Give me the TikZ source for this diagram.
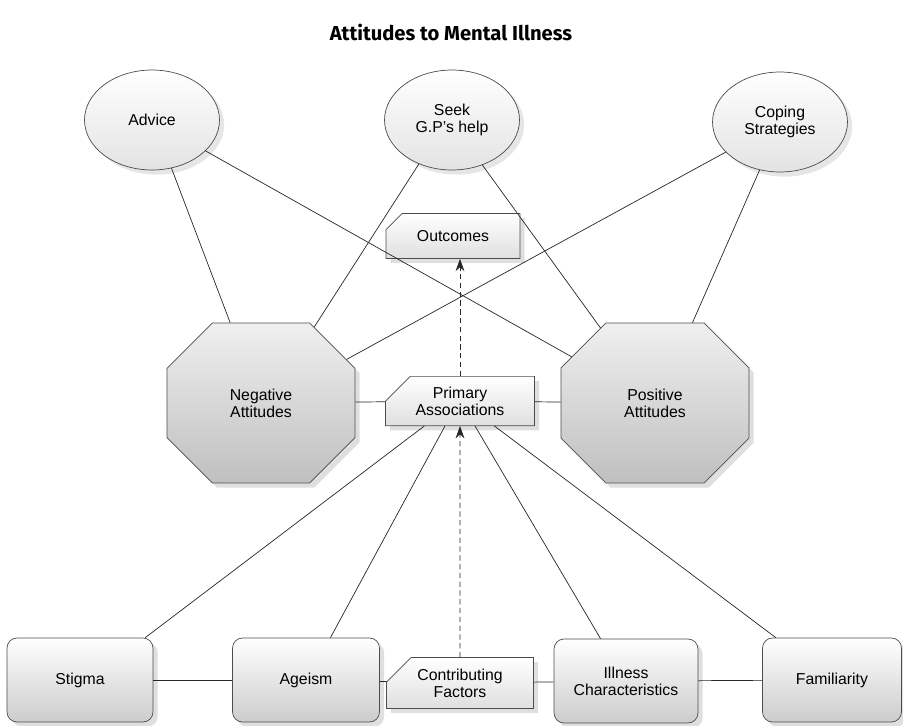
\documentclass[tikz,border=0pt]{standalone}
\usepackage{fontspec}
\setmainfont{Liberation Sans}
\newfontfamily\titlefont{Fira Sans}
\usetikzlibrary{shapes.geometric,shapes.misc,shadows,arrows.meta}

\begin{document}
\begin{tikzpicture}[x=0.02cm,y=-0.02cm,
    font=\fontsize{9}{9.5}\selectfont,
    oval/.style={ellipse,minimum width=2.7cm,minimum height=2cm,inner sep=0pt,
        top color=white,bottom color=gray!22,drop shadow={opacity=0.2}},
    octo/.style={chamfered rectangle,chamfered rectangle xsep=1.15cm,chamfered rectangle ysep=0.92cm,
        minimum width=3.76cm,minimum height=3.2cm,inner sep=0pt,
        top color=gray!12,bottom color=gray!50,drop shadow={opacity=0.25}},
    tag/.style={chamfered rectangle,chamfered rectangle corners=north west,
        chamfered rectangle xsep=0.54cm,chamfered rectangle ysep=0.21cm,inner sep=0pt,
        top color=white,bottom color=gray!25,drop shadow={opacity=0.25}},
    factor/.style={rectangle,rounded corners=0.2cm,minimum width=2.92cm,minimum height=1.68cm,
        inner sep=0pt,top color=white,bottom color=gray!40,drop shadow={opacity=0.25}}]
    \useasboundingbox (0,0) rectangle (903,725);
    \node[font=\titlefont\bfseries\fontsize{11.5}{12}\selectfont] (title) at (451,32) {Attitudes to Mental Illness};
    \begin{scope}[every node/.append style={draw=black!70,thin,align=center}]
        \node[oval] (Adv) at (152,120) {Advice};
        \node[oval] (Seek) at (452,120) {Seek\\G.P's help};
        \node[oval] (Cope) at (780,122) {Coping\\Strategies};
        \node[tag,minimum width=2.68cm,minimum height=0.9cm] (Out) at (453,236) {Outcomes};
        \node[octo] (Neg) at (261,403) {Negative\\Attitudes};
        \node[tag,minimum width=2.98cm,minimum height=0.98cm] (Prim) at (460,401) {Primary\\Associations};
        \node[octo] (Pos) at (655,403) {Positive\\Attitudes};
        \node[factor] (Stig) at (80,680) {Stigma};
        \node[factor,minimum width=2.94cm] (Age) at (306,680) {Ageism};
        \node[tag,minimum width=2.94cm,minimum height=1.02cm] (Con) at (460,683) {Contributing\\Factors};
        \node[factor,minimum width=2.88cm] (Ill) at (626,681) {Illness\\Characteristics};
        \node[factor,minimum width=2.78cm] (Fam) at (832,680) {Familiarity};
    \end{scope}
    \begin{scope}[every path/.style={thin,black!85}]
        \path (Adv.292) edge (Neg.111);
        \path (Adv.330) edge (Pos.151);
        \path (Seek.233) edge (Neg.55.6);
        \path (Seek.304) edge (Pos.126);
        \path (Cope.209) edge (Neg.27.6);
        \path (Cope.247) edge (Pos.65);
        \path (Neg) edge (Prim);
        \path (Prim) edge (Pos);
        \path (Prim.215) edge (Stig.33.7);
        \path (Prim.239) edge (Age.60);
        \path (Prim.301) edge (Ill.121);
        \path (Prim.324.5) edge (Fam.143);
        \path (Stig) edge (Age);
        \path (Age) edge (Con);
        \path (Con) edge (Ill);
        \path (Ill) edge (Fam);
        \path [densely dashed,-{Stealth[length=7pt,width=5pt]}] (Con) edge (Prim);
        \path [densely dashed,-{Stealth[length=7pt,width=5pt]}] (Prim.north) edge (Prim.north |- Out.south);
    \end{scope}
\end{tikzpicture}
\end{document}
